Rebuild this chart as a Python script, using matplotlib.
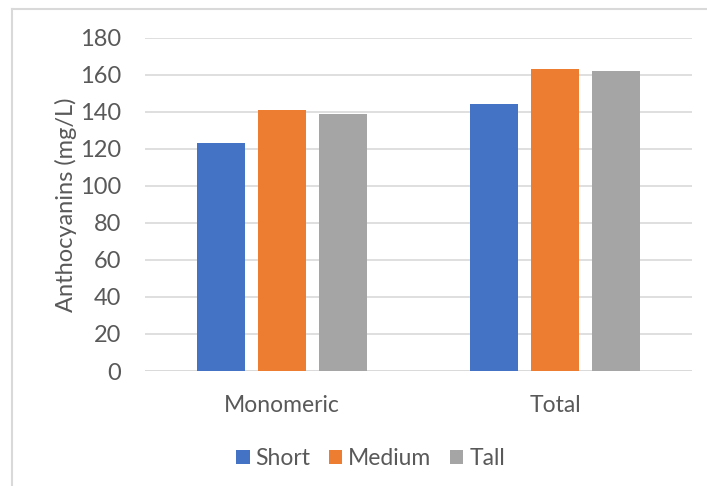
import numpy as np
import matplotlib
matplotlib.use("Agg")
import matplotlib.pyplot as plt
from matplotlib.lines import Line2D

matplotlib.rcParams["font.family"] = ["Lato", "DejaVu Sans"]

categories = ["Monomeric", "Total"]
series = ["Short", "Medium", "Tall"]
short_vals = [123, 144]
medium_vals = [141, 163]
tall_vals = [139, 162]
colors = ["#4472C4", "#ED7D31", "#A5A5A5"]
yticks = [0, 20, 40, 60, 80, 100, 120, 140, 160, 180]

fig = plt.figure(figsize=(7.07, 4.86), dpi=100)
ax = fig.add_axes([0.205, 0.2366, 0.774, 0.6858])

x = np.arange(len(categories))
width = 0.1755
step = 0.223
for i, (vals, c, name) in enumerate(zip([short_vals, medium_vals, tall_vals], colors, series)):
    ax.bar(x + (i - 1) * step, vals, width, color=c, label=name, zorder=3)

ax.set_xlim(-0.5, 1.5)
ax.set_ylim(0, 180)
ax.set_yticks(yticks)
ax.set_xticks(x)
ax.set_xticklabels(categories)
ax.yaxis.grid(True, color="#D9D9D9", linewidth=1.2, zorder=0)
for s in ["top", "right", "left", "bottom"]:
    ax.spines[s].set_visible(False)
ax.axhline(0, color="#D9D9D9", linewidth=1.2, zorder=1)
ax.tick_params(axis="y", length=0, labelsize=17, labelcolor="#595959", pad=17)
ax.tick_params(axis="x", length=0, labelsize=16.5, labelcolor="#595959", pad=17)
ax.set_ylabel("Anthocyanins (mg/L)", fontsize=17, color="#595959", labelpad=2)

ax.legend(loc="upper center", bbox_to_anchor=(0.412, -0.17), ncol=3, frameon=False,
          fontsize=16.5, labelcolor="#595959", handlelength=0.6, handleheight=0.6,
          handletextpad=0.25, columnspacing=0.8)

# outer chart border (left and top visible)
fig.add_artist(Line2D([12 / 707, 12 / 707], [0, 1 - 9 / 486], transform=fig.transFigure,
                      color="#D9D9D9", linewidth=1.5))
fig.add_artist(Line2D([12 / 707, 1], [1 - 9 / 486, 1 - 9 / 486], transform=fig.transFigure,
                      color="#D9D9D9", linewidth=1.5))

plt.savefig("out.png", dpi=100)
